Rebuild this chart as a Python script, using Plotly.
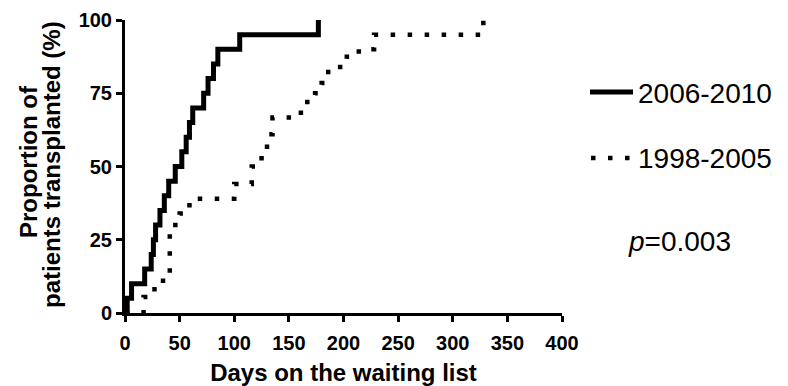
import plotly.graph_objects as go

# 2006-2010 (solid) step curve: days and cumulative proportion transplanted (%)
days_2006 = [0, 2, 6, 18, 24, 26, 28, 32, 36, 40, 46, 52, 56, 59, 62, 72, 76, 81, 85, 105, 177]
pct_2006 = [0, 5, 10, 15, 20, 25, 30, 35, 40, 45, 50, 55, 60, 65, 70, 75, 80, 85, 90, 95, 100]

# 1998-2005 (dotted) step curve
days_1998 = [0, 17, 27, 41, 50, 59, 100, 116, 125, 130, 135, 161, 174, 180, 186, 203, 214, 228, 328]
pct_1998 = [0, 5.5, 11, 30, 34, 39, 44, 50, 55.6, 61, 66.7, 72, 75, 78.5, 84, 87.5, 90, 95, 100]

x_ticks = [0, 50, 100, 150, 200, 250, 300, 350, 400]
y_ticks = [0, 25, 50, 75, 100]

series_names = ["2006-2010", "1998-2005"]
p_text = "<i>p</i>=0.003"

FONT = "Liberation Sans, Arial, Helvetica, sans-serif"
DOT_DASH = "4.5px,12.5px"

fig = go.Figure()
fig.add_trace(go.Scatter(
    x=days_2006, y=pct_2006, mode="lines", line_shape="hv",
    line=dict(color="black", width=5), name=series_names[0],
    cliponaxis=False, showlegend=False))
fig.add_trace(go.Scatter(
    x=days_1998, y=pct_1998, mode="lines", line_shape="hv",
    line=dict(color="black", width=4.5, dash=DOT_DASH), name=series_names[1],
    cliponaxis=False, showlegend=False))

L, R, T, B = 125, 226, 20, 73
W, H = 788, 386
pw, ph = W - L - R, H - T - B

def px_x(px):
    return (px - L) / pw

def px_y(py):
    return (H - B - py) / ph

# manual legend
shapes = [
    dict(type="line", xref="paper", yref="paper", x0=px_x(590), x1=px_x(633),
         y0=px_y(92), y1=px_y(92), line=dict(color="black", width=5)),
    dict(type="line", xref="paper", yref="paper", x0=px_x(591), x1=px_x(634),
         y0=px_y(158), y1=px_y(158), line=dict(color="black", width=4.5, dash=DOT_DASH)),
]
annotations = [
    dict(text=series_names[0], xref="paper", yref="paper", x=px_x(636), y=px_y(93),
         xanchor="left", yanchor="middle", showarrow=False,
         font=dict(family=FONT, size=28, color="black")),
    dict(text=series_names[1], xref="paper", yref="paper", x=px_x(636), y=px_y(158),
         xanchor="left", yanchor="middle", showarrow=False,
         font=dict(family=FONT, size=28, color="black")),
    dict(text=p_text, xref="paper", yref="paper", x=px_x(626), y=px_y(242),
         xanchor="left", yanchor="middle", showarrow=False,
         font=dict(family=FONT, size=28, color="black")),
    dict(text="Proportion of", xref="paper", yref="paper", x=px_x(28), y=px_y(162),
         xanchor="center", yanchor="middle", textangle=-90, showarrow=False,
         font=dict(family=FONT, size=24, color="black", weight="bold")),
    dict(text="patients transplanted (%)", xref="paper", yref="paper", x=px_x(51), y=px_y(165),
         xanchor="center", yanchor="middle", textangle=-90, showarrow=False,
         font=dict(family=FONT, size=24, color="black", weight="bold")),
]

axis_common = dict(
    showline=True, linewidth=3, linecolor="black", ticks="outside", ticklen=6,
    tickwidth=3, tickcolor="black", showgrid=False, zeroline=False, automargin=False,
    tickfont=dict(family=FONT, size=20, color="black", weight="bold"),
)

fig.update_layout(
    width=W, height=H, margin=dict(l=L, r=R, t=T, b=B, pad=0),
    paper_bgcolor="white", plot_bgcolor="white",
    xaxis=dict(range=[0, 400], tickvals=x_ticks, ticktext=[str(v) for v in x_ticks],
               ticklabelstandoff=4,
               title=dict(text="Days on the waiting list", standoff=14,
                          font=dict(family=FONT, size=24, color="black", weight="bold")),
               **axis_common),
    yaxis=dict(range=[0, 100], tickvals=y_ticks, ticktext=[str(v) for v in y_ticks],
               **axis_common),
    shapes=shapes, annotations=annotations, showlegend=False,
)

fig.write_html("out.html")
